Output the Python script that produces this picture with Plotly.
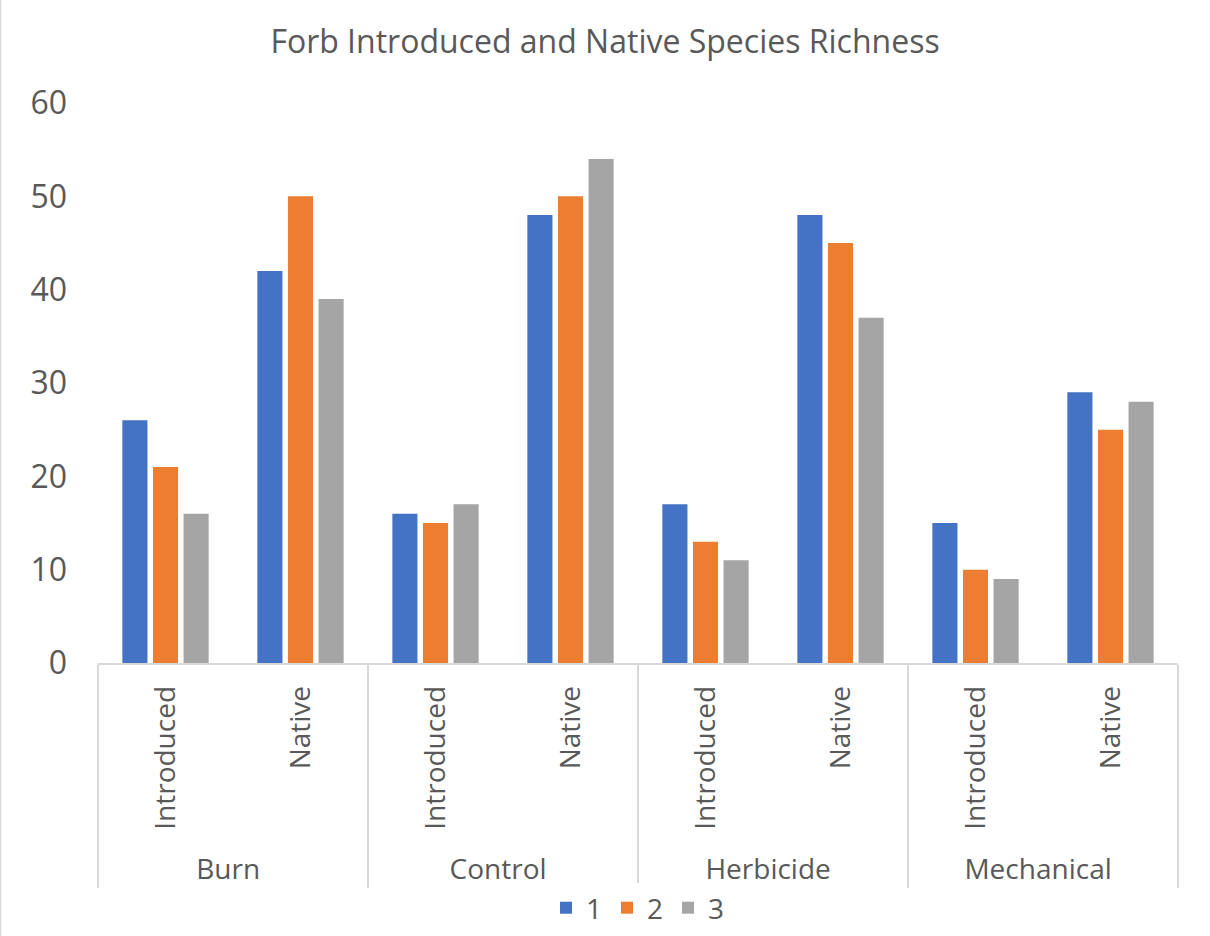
import plotly.graph_objects as go

groups = ["Burn", "Burn", "Control", "Control", "Herbicide", "Herbicide", "Mechanical", "Mechanical"]
subcats = ["Introduced", "Native"] * 4
series_names = ["1", "2", "3"]
s1 = [26, 42, 16, 48, 17, 48, 15, 29]
s2 = [21, 50, 15, 50, 13, 45, 10, 25]
s3 = [16, 39, 17, 54, 11, 37, 9, 28]
colors = ["#4472C4", "#ED7D31", "#A5A5A5"]

FONT = "Open Sans"
TXT = "#595959"

# a leading no-break space lengthens the rotated label row so the group row sits lower
sub_labels = ["\u00a0" + s if s == "Introduced" else s for s in subcats]

fig = go.Figure()
for name, vals, col in zip(series_names, [s1, s2, s3], colors):
    fig.add_trace(go.Bar(x=[groups, sub_labels], y=vals, name=name,
                         marker=dict(color=col, line=dict(width=0))))

fig.update_layout(
    width=1210, height=936,
    paper_bgcolor="white", plot_bgcolor="white",
    margin=dict(l=98, r=32, t=103, b=273, autoexpand=False),
    title=dict(text="Forb Introduced and Native Species Richness",
               x=0.5, xanchor="center", y=0.955, yanchor="middle",
               font=dict(family=FONT, size=32, color=TXT)),
    barmode="group", bargap=0.32, bargroupgap=0.18,
    legend=dict(orientation="h", x=0.5, xanchor="center", y=-0.4375, yanchor="middle",
                font=dict(family=FONT, size=28, color=TXT),
                itemwidth=30, tracegroupgap=0),
    showlegend=True,
)
fig.update_yaxes(range=[0, 60], dtick=10, showgrid=False, zeroline=False,
                 showline=False, ticks="", tickfont=dict(family=FONT, size=32, color=TXT),
                 ticklabelstandoff=30)
fig.update_xaxes(type="multicategory", showline=True, linecolor="#D9D9D9", linewidth=1.5,
                 showdividers=True, dividercolor="#D9D9D9", dividerwidth=1.5,
                 tickangle=-90, ticks="", showgrid=False, ticklabelstandoff=10,
                 tickfont=dict(family=FONT, size=28, color=TXT))
# chart border on left edge
fig.add_shape(type="line", xref="paper", yref="paper",
              x0=-97.5/1080, x1=-97.5/1080, y0=-273/560, y1=103/560+1,
              line=dict(color="#D9D9D9", width=1.5))
fig.write_html("out.html", config={"displayModeBar": False},
               post_script="document.body.style.margin='0';")
